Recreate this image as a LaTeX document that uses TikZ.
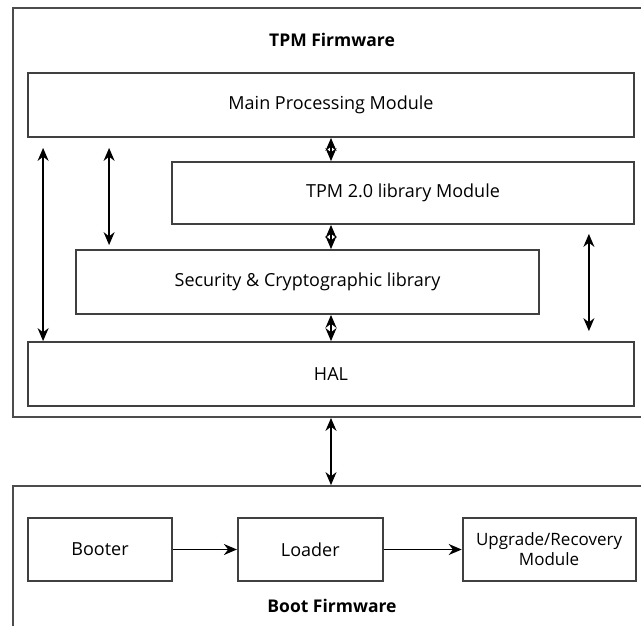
\documentclass[tikz,border=0pt]{standalone}
\usepackage{fontspec}
\setmainfont{Open Sans}
\usetikzlibrary{positioning,arrows.meta}
\tikzstyle{block} = [rectangle, draw=black!75, line width=1.8pt, inner sep=0pt, text centered, font=\fontsize{18}{21}\selectfont]
\tikzstyle{frame} = [rectangle, draw=black!70, line width=1.8pt, inner sep=0pt]
\tikzstyle{title} = [font=\bfseries\fontsize{17.5}{20}\selectfont]
\tikzstyle{arrow} = [line width=1.5pt,->,>={Stealth[length=13pt,width=11pt]}]

\begin{document}
\begin{tikzpicture}[x=1pt,y=-1pt]
\useasboundingbox (0,0) rectangle (641,625);
\clip (0,0) rectangle (641,625);
% outer frames
\node (tpm) [frame, minimum width=647, minimum height=409] at (336.5,212.5) {};
\node (boot) [frame, minimum width=647, minimum height=160] at (336.5,566) {};
\node (tpmtitle) [title] at (332,40) {TPM Firmware};
\node (boottitle) [title] at (332,606) {Boot Firmware};
% TPM firmware modules
\node (main) [block, minimum width=606, minimum height=64] at (331,105) {Main Processing Module};
\node (lib) [block, minimum width=462, minimum height=62] at (403,193) {TPM 2.0 library Module};
\node (sec) [block, minimum width=463, minimum height=64] at (307.5,282) {Security \& Cryptographic library};
\node (hal) [block, minimum width=606, minimum height=64] at (331,374) {HAL};
% boot firmware modules
\node (booter) [block, minimum width=144, minimum height=63] at (100,549.5) {Booter};
\node (loader) [block, minimum width=145, minimum height=63, right=64pt of booter] {Loader};
\node (upgrade) [block, minimum width=173, minimum height=63, right=78pt of loader, align=center, font=\fontsize{17}{20}\selectfont] {Upgrade/Recovery\\Module};
\draw [arrow,<->] (main.south) -- (main.south |- lib.north);
\draw [arrow,<->] (main.south |- lib.south) -- (main.south |- sec.north);
\draw [arrow,<->] (main.south |- sec.south) -- (hal.north);
\draw [arrow,<->] ([shift={(16,10)}]main.south west) -- ([xshift=16]hal.north west);
\draw [arrow,<->] ([shift={(82,10)}]main.south west) -- ([shift={(34,-4)}]sec.north west);
\draw [arrow,<->] ([shift={(-46,9)}]lib.south east) -- ([shift={(-46,-10)}]hal.north east);
\draw [arrow,<->] (hal.south |- tpm.south) -- (hal.south |- boot.north);
\draw [arrow] (booter) -- (loader);
\draw [arrow] (loader) -- (upgrade);
\end{tikzpicture}
\end{document}
